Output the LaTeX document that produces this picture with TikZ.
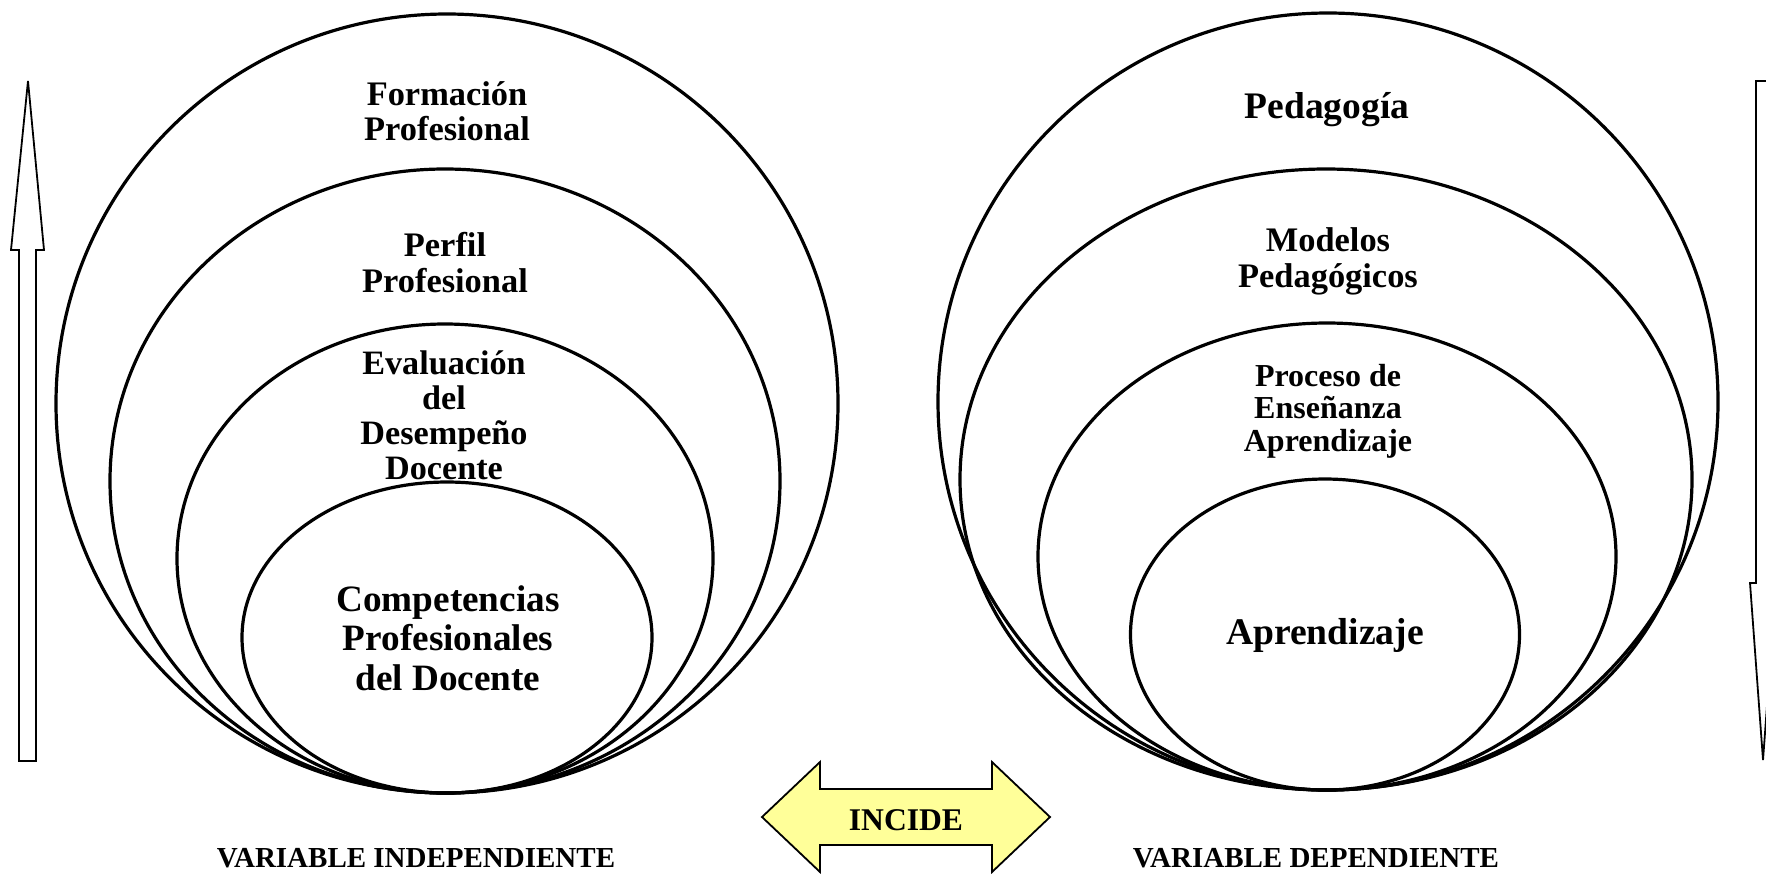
\documentclass[tikz,border=0pt]{standalone}
\usepackage{fontspec}
\setmainfont{Liberation Serif}
\definecolor{amarillo}{RGB}{255,255,153}
\begin{document}
\begin{tikzpicture}[x=0.5pt, y=-0.5pt, line join=round, line cap=round,
	capa/.style={line width=1.6pt},
	flecha/.style={line width=0.9pt, fill=white, line join=miter},
	texto/.style={align=center, inner sep=0pt},
	fs/.style 2 args={font=\fontsize{#1}{#2}\selectfont\bfseries}]
	\path[use as bounding box, clip] (0,0) rectangle (1766,873);
	% elipses de cada variable
	\foreach \n/\cx/\cy/\rx/\ry in {I1/447/403.5/391/389.5, I2/445/481/335/312, I3/445/558.5/268/234.5, I4/447/637.5/205/155.5,
		D1/1328/401.5/390/388.5, D2/1326/479.5/366/310.5, D3/1327/556.5/289/233.5, D4/1325/634.5/194.5/155.5}{
		\path (\cx,\cy) coordinate (\n);
		\draw[capa] (\n) ellipse [x radius=\rx, y radius=\ry];
	}
	% variable independiente
	\node[texto, fs={17.2}{17.5}] (formacion) at (447,111) {Formación\\Profesional};
	\node[texto, fs={17.2}{18}] (perfil) at (445,263) {Perfil\\Profesional};
	\node[texto, fs={17.1}{17.5}] (evaluacion) at (444,415) {Evaluación\\del\\Desempeño\\Docente};
	\node[texto, fs={18.6}{19.7}] (competencias) at (448,638) {Competencias\\Profesionales\\del Docente};
	% variable dependiente
	\node[texto, fs={18.75}{19}] (pedagogia) at (1327,110) {Pedagogía};
	\node[texto, fs={17.2}{18}] (modelos) at (1328,261) {Modelos\\Pedagógicos};
	\node[texto, fs={16}{16.3}] (proceso) at (1328,411) {Proceso de\\Enseñanza\\Aprendizaje};
	\node[texto, fs={18.8}{19}] (aprendizaje) at (1325,635) {Aprendizaje};
	% flechas laterales
	\draw[flecha] (28,81) -- (44,250) -- (36,250) -- (36,761) -- (19,761) -- (19,250) -- (11,250) -- cycle;
	\draw[flecha] (1763,760) -- (1750,583) -- (1756,583) -- (1756,81) -- (1770,81) -- (1770,583) -- (1776,583) -- cycle;
	% flecha doble
	\draw[flecha, fill=amarillo] (762,817) -- (820,762) -- (820,789) -- (992,789) -- (992,762) -- (1050,817)
		-- (992,872) -- (992,845) -- (820,845) -- (820,872) -- cycle;
	\node[texto, fs={15.8}{16}] (incide) at (906,820) {INCIDE};
	\node[texto, fs={14.5}{15}] (vi) at (416,858) {VARIABLE INDEPENDIENTE};
	\node[texto, fs={14.5}{15}] (vd) at (1316,858) {VARIABLE DEPENDIENTE};
\end{tikzpicture}
\end{document}
